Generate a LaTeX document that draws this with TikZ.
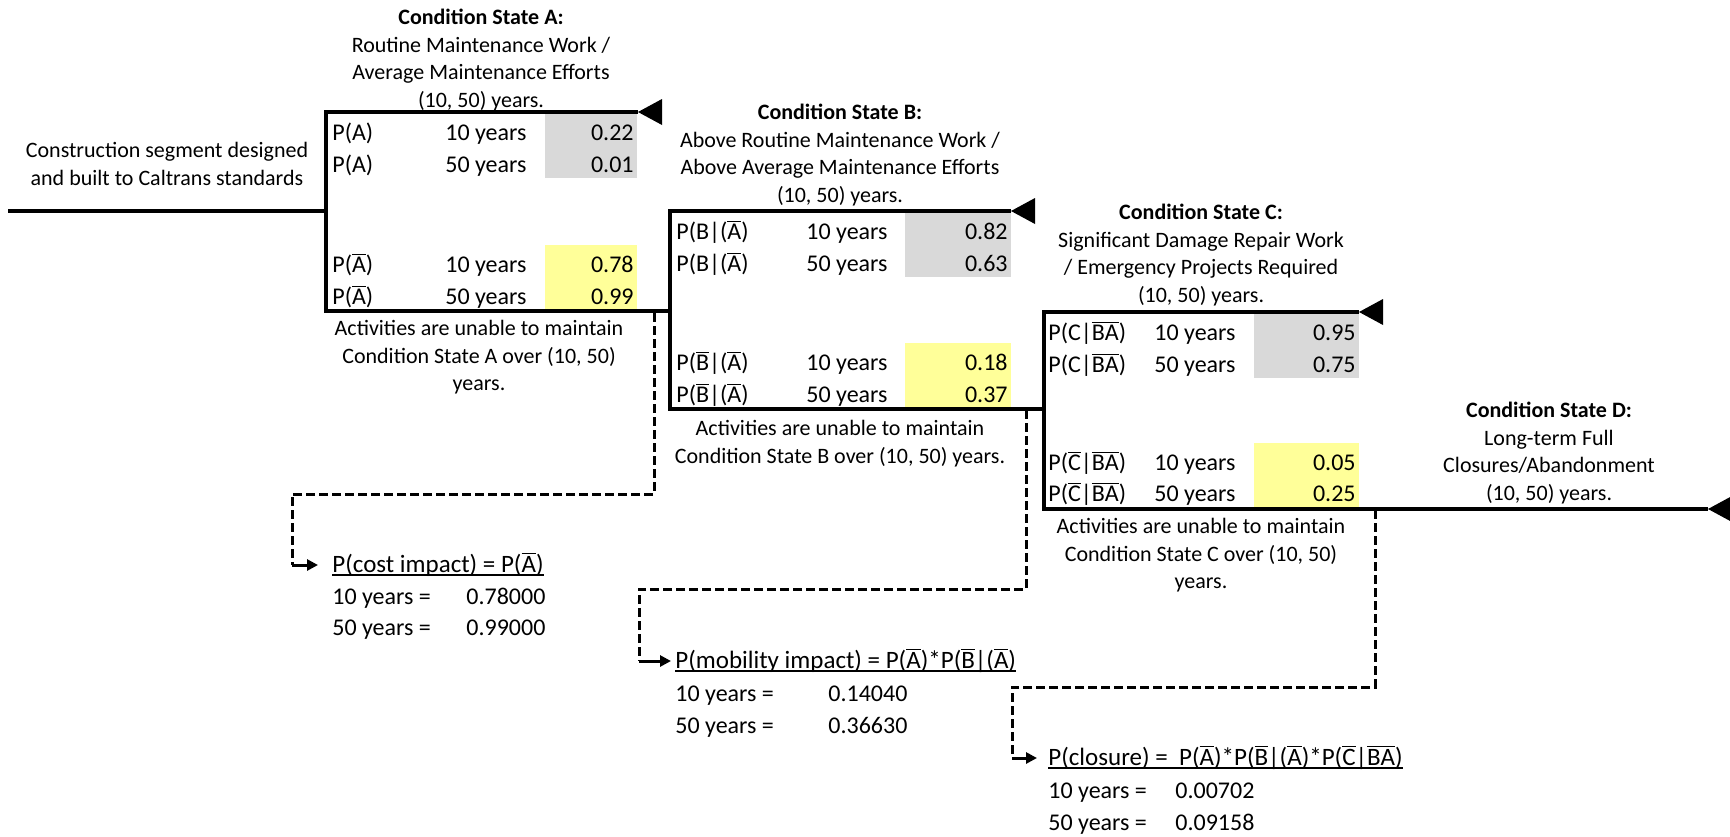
\documentclass[tikz,border=0pt]{standalone}
\usepackage{fontspec}
\setmainfont{Carlito}
\usetikzlibrary{arrows.meta}
\newcommand\ob[1]{\leavevmode\vbox{\hrule height 0.55pt\kern 0.8pt\hbox{#1}}}
\definecolor{cellgray}{HTML}{D9D9D9}
\definecolor{cellyel}{HTML}{FFFF99}
\begin{document}
\begin{tikzpicture}[x=0.5pt,y=-0.5pt,
  ln/.style={line width=2pt},
  dsh/.style={line width=1.5pt,dash pattern=on 4.5pt off 2pt},
  arr/.style={line width=1.5pt,-{Triangle[length=5.5pt,width=5.5pt]}},
  lbl/.style={font=\fontsize{11}{13.85}\selectfont,align=center,inner sep=0pt,anchor=north},
  txt/.style={font=\fontsize{12}{14}\selectfont,inner sep=0pt,anchor=base west},
  ftxt/.style={font=\fontsize{12.5}{14}\selectfont,inner sep=0pt,anchor=base west},
  val/.style={font=\fontsize{12}{14}\selectfont,inner sep=0pt,anchor=base east},
  gcell/.style={fill=cellgray},
  ycell/.style={fill=cellyel},
  uline/.style={line width=1pt}]
\useasboundingbox (0,0) rectangle (1730,836);
% cells
\fill[gcell] (545,114) rectangle (637,178);
\fill[ycell] (545,245) rectangle (637,310);
\fill[gcell] (905,213) rectangle (1011,277);
\fill[ycell] (905,343) rectangle (1011,408);
\fill[gcell] (1254,314) rectangle (1359,378);
\fill[ycell] (1254,443) rectangle (1359,508);
% coordinates
\coordinate (m0) at (8,211);
\coordinate (jA) at (326,211);
\coordinate (A1) at (326,112);
\coordinate (A2) at (326,311);
\coordinate (tipA) at (638,112);
\coordinate (B1) at (670,211);
\coordinate (B2) at (670,409);
\coordinate (jB) at (670,311);
\coordinate (tipB) at (1011,211);
\coordinate (C1) at (1044,312);
\coordinate (C2) at (1044,509);
\coordinate (jC) at (1044,409);
\coordinate (tipC) at (1359,312);
\coordinate (tipD) at (1708,509);
% tree lines
\draw[ln] (m0) -- (jA);
\draw[ln] (tipA) -- (A1) -- (A2) -- (jB);
\draw[ln] (tipB) -- (B1) -- (B2) -- (jC);
\draw[ln] (tipC) -- (C1) -- (C2) -- (tipD);
\foreach \t in {tipA,tipB,tipC,tipD}
  \fill (\t) -- ++(24,-13) -- ++(0,26) -- cycle;
% labels
\node[lbl] (tS) at (167,139) {\rule{0pt}{9pt}Construction segment designed\\and built to Caltrans standards};
\node[lbl] (tA) at (481,6) {\rule{0pt}{9pt}\textbf{Condition State A:}\\Routine Maintenance Work /\\Average Maintenance Efforts\\(10, 50) years.};
\node[lbl] (bA) at (479,317) {\rule{0pt}{9pt}Activities are unable to maintain\\Condition State A over (10, 50)\\years.};
\node[lbl] (tB) at (840,101) {\rule{0pt}{9pt}\textbf{Condition State B:}\\Above Routine Maintenance Work /\\Above Average Maintenance Efforts\\(10, 50) years.};
\node[lbl] (bB) at (840,417) {\rule{0pt}{9pt}Activities are unable to maintain\\Condition State B over (10, 50) years.};
\node[lbl] (tC) at (1201,201) {\rule{0pt}{9pt}\textbf{Condition State C:}\\Significant Damage Repair Work\\/ Emergency Projects Required\\(10, 50) years.};
\node[lbl] (bC) at (1201,515) {\rule{0pt}{9pt}Activities are unable to maintain\\Condition State C over (10, 50)\\years.};
\node[lbl] (tD) at (1549,399) {\rule{0pt}{9pt}\textbf{Condition State D:}\\Long-term Full\\Closures/Abandonment\\(10, 50) years.};
% box A rows
\node[txt] (a11) at (332,140) {P(A)};
\node[txt] (a12) at (445,140) {10 years};
\node[val] (a13) at (634,140) {0.22};
\node[txt] (a21) at (332,172) {P(A)};
\node[txt] (a22) at (445,172) {50 years};
\node[val] (a23) at (634,172) {0.01};
\node[txt] (a31) at (332,272) {P(\ob{A})};
\node[txt] (a32) at (445,272) {10 years};
\node[val] (a33) at (634,272) {0.78};
\node[txt] (a41) at (332,304) {P(\ob{A})};
\node[txt] (a42) at (445,304) {50 years};
\node[val] (a43) at (634,304) {0.99};
% box B rows
\node[txt] (b11) at (676,239) {P(B|(\ob{A})};
\node[txt] (b12) at (806,239) {10 years};
\node[val] (b13) at (1008,239) {0.82};
\node[txt] (b21) at (676,271) {P(B|(\ob{A})};
\node[txt] (b22) at (806,271) {50 years};
\node[val] (b23) at (1008,271) {0.63};
\node[txt] (b31) at (676,370) {P(\ob{B}|(\ob{A})};
\node[txt] (b32) at (806,370) {10 years};
\node[val] (b33) at (1008,370) {0.18};
\node[txt] (b41) at (676,402) {P(\ob{B}|(\ob{A})};
\node[txt] (b42) at (806,402) {50 years};
\node[val] (b43) at (1008,402) {0.37};
% box C rows
\node[txt] (c11) at (1048,340) {P(C|\ob{B}\ob{A})};
\node[txt] (c12) at (1154,340) {10 years};
\node[val] (c13) at (1356,340) {0.95};
\node[txt] (c21) at (1048,372) {P(C|\ob{B}\ob{A})};
\node[txt] (c22) at (1154,372) {50 years};
\node[val] (c23) at (1356,372) {0.75};
\node[txt] (c31) at (1048,470) {P(\ob{C}|\ob{B}\ob{A})};
\node[txt] (c32) at (1154,470) {10 years};
\node[val] (c33) at (1356,470) {0.05};
\node[txt] (c41) at (1048,501) {P(\ob{C}|\ob{B}\ob{A})};
\node[txt] (c42) at (1154,501) {50 years};
\node[val] (c43) at (1356,501) {0.25};
% formulas
\node[ftxt] (fA) at (332,572) {P(cost impact) = P(\ob{A})};
\node[txt] (fA1) at (332,604) {10 years =};
\node[txt] (fA2) at (466,604) {0.78000};
\node[txt] (fA3) at (332,635) {50 years =};
\node[txt] (fA4) at (466,635) {0.99000};
\node[ftxt] (fB) at (675,668) {P(mobility impact) = P(\ob{A})*P(\ob{B}|(\ob{A})};
\node[txt] (fB1) at (675,701) {10 years =};
\node[txt] (fB2) at (828,701) {0.14040};
\node[txt] (fB3) at (675,733) {50 years =};
\node[txt] (fB4) at (828,733) {0.36630};
\node[ftxt] (fC) at (1048,765) {P(closure) = \ P(\ob{A})*P(\ob{B}|(\ob{A})*P(\ob{C}|\ob{B}\ob{A})};
\node[txt] (fC1) at (1048,798) {10 years =};
\node[txt] (fC2) at (1175,798) {0.00702};
\node[txt] (fC3) at (1048,830) {50 years =};
\node[txt] (fC4) at (1175,830) {0.09158};
\foreach \f in {fA,fB,fC}
  \draw[uline] ([yshift=-1.5pt]\f.base west) -- ([yshift=-1.5pt]\f.base east);
% dashed connectors
\coordinate (dA0) at (654,313);
\coordinate (dA1) at (292,494);
\coordinate (dA2) at (292,565);
\coordinate (eA) at (318,565);
\coordinate (dB0) at (1026,410);
\coordinate (dB1) at (639,589);
\coordinate (dB2) at (639,661);
\coordinate (eB) at (671,661);
\coordinate (dC0) at (1375,510);
\coordinate (dC1) at (1012,687);
\coordinate (dC2) at (1012,758);
\coordinate (eC) at (1037,758);
\draw[dsh] (dA0) |- (dA1) -- (dA2);
\draw[arr] (dA2) -- (eA);
\draw[dsh] (dB0) |- (dB1) -- (dB2);
\draw[arr] (dB2) -- (eB);
\draw[dsh] (dC0) |- (dC1) -- (dC2);
\draw[arr] (dC2) -- (eC);
\end{tikzpicture}
\end{document}
